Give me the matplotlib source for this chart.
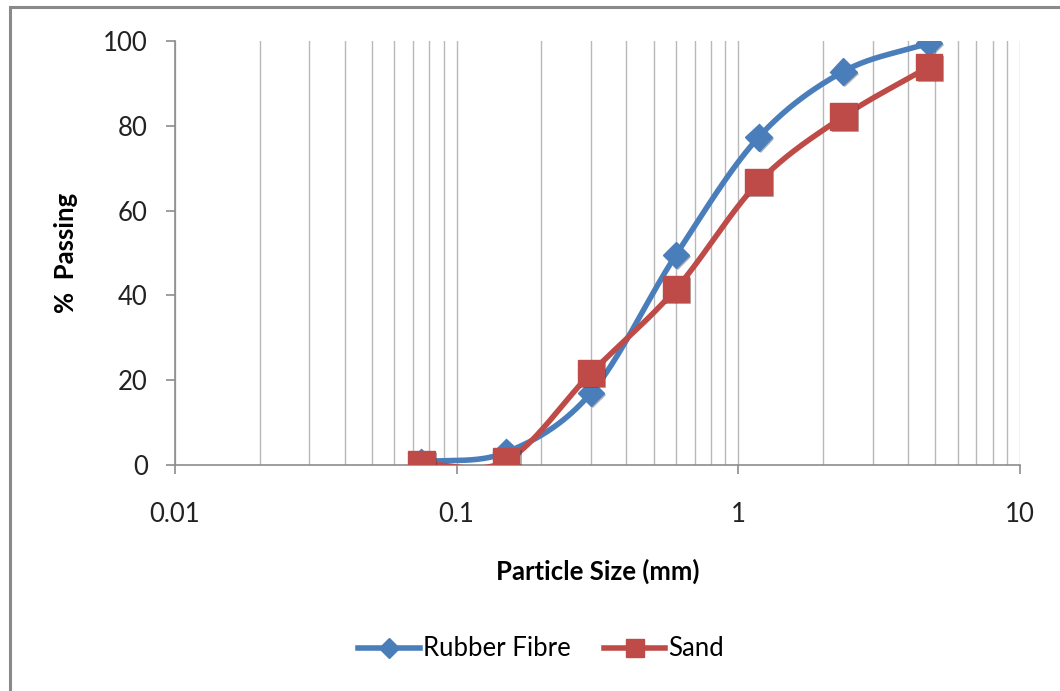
import numpy as np
import matplotlib.pyplot as plt
from matplotlib.lines import Line2D
from matplotlib.patches import Rectangle
import matplotlib.patheffects as pe
from matplotlib.ticker import LogLocator, FixedLocator, NullFormatter

plt.rcParams['font.family'] = ['Lato', 'DejaVu Sans']

# sieve sizes (mm) and cumulative % passing
sieve_mm = [0.075, 0.15, 0.3, 0.6, 1.18, 2.36, 4.75]
rubber_fibre = [0.7, 3.0, 17.0, 49.5, 77.3, 92.8, 99.5]
sand = [0.2, 1.0, 21.7, 41.5, 66.7, 82.2, 93.9]

blue = '#4A7EBB'
red = '#BE4B48'


def smooth(xs, ys, n=40):
    # Catmull-Rom through the points, in log-x space (like a smoothed line chart)
    lx = np.log10(xs)
    y = np.asarray(ys, dtype=float)
    px = np.concatenate([[2 * lx[0] - lx[1]], lx, [2 * lx[-1] - lx[-2]]])
    py = np.concatenate([[2 * y[0] - y[1]], y, [2 * y[-1] - y[-2]]])
    ox, oy = [], []
    t = np.linspace(0, 1, n)
    for i in range(1, len(px) - 2):
        for p, out in ((px, ox), (py, oy)):
            p0, p1, p2, p3 = p[i - 1], p[i], p[i + 1], p[i + 2]
            seg = 0.5 * ((2 * p1) + (-p0 + p2) * t
                         + (2 * p0 - 5 * p1 + 4 * p2 - p3) * t ** 2
                         + (-p0 + 3 * p1 - 3 * p2 + p3) * t ** 3)
            out.extend(seg)
    return 10 ** np.array(ox), np.array(oy)


fig = plt.figure(figsize=(10.6, 6.91), dpi=100)
ax = fig.add_axes([175 / 1060, 1 - 465 / 691, (1020 - 175) / 1060, (465 - 41) / 691])

shadow = [pe.SimplePatchShadow(offset=(1.5, -1.5), alpha=0.35), pe.Normal()]

for xs, ys, col in ((sieve_mm, rubber_fibre, blue), (sieve_mm, sand, red)):
    sx, sy = smooth(xs, ys)
    ax.plot(sx, sy, color=col, lw=4.0, solid_capstyle='round', zorder=3)
for xs, ys, col, mk, ms in ((sieve_mm, rubber_fibre, blue, 'D', 13.5),
                            (sieve_mm, sand, red, 's', 19)):
    ax.plot(xs, ys, ls='none', marker=mk, ms=ms, color=col, mec=col,
            zorder=4, path_effects=shadow)

ax.set_xscale('log')
ax.set_xlim(0.01, 10)
ax.set_ylim(0, 100)
ax.set_yticks([0, 20, 40, 60, 80, 100])
ax.xaxis.set_major_locator(FixedLocator([0.01, 0.1, 1, 10]))
ax.xaxis.set_major_formatter(plt.FuncFormatter(lambda v, _: f'{v:g}'))
ax.xaxis.set_minor_locator(LogLocator(base=10, subs=np.arange(2, 10)))
ax.xaxis.set_minor_formatter(NullFormatter())

ax.grid(True, which='both', axis='x', color='#B8B8B8', lw=1.0)
ax.set_axisbelow(True)
for s in ('top', 'right'):
    ax.spines[s].set_visible(False)
for s in ('left', 'bottom'):
    ax.spines[s].set_color('#8C8C8C')
    ax.spines[s].set_linewidth(1.2)
ax.tick_params(axis='both', which='major', colors='#8C8C8C', length=6.5,
               width=1.2, labelcolor='#222222', labelsize=18.5)
ax.tick_params(axis='y', pad=13)
ax.tick_params(axis='x', pad=20)
ax.tick_params(axis='x', which='minor', length=0)

ax.set_xlabel('Particle Size (mm)', fontsize=18.5, fontweight='bold', labelpad=23)
ax.set_ylabel('%  Passing', fontsize=18.5, fontweight='bold', labelpad=18)

handles = [
    Line2D([], [], color=blue, lw=4.0, marker='D', ms=10),
    Line2D([], [], color=red, lw=4.0, marker='s', ms=13),
]
fig.legend(handles, ['Rubber Fibre', 'Sand'], loc='center',
           bbox_to_anchor=(541 / 1060, 1 - 649 / 691), ncol=2, frameon=False,
           fontsize=18.5, handlelength=2.4, columnspacing=1.3, handletextpad=0.1)

fig.patches.append(Rectangle((10 / 1060, -0.05), 1.2, 0.05 + 1 - 7 / 691,
                             transform=fig.transFigure, fill=False,
                             edgecolor='#8A8A8A', lw=2.2))

fig.savefig('out.png', dpi=100)
